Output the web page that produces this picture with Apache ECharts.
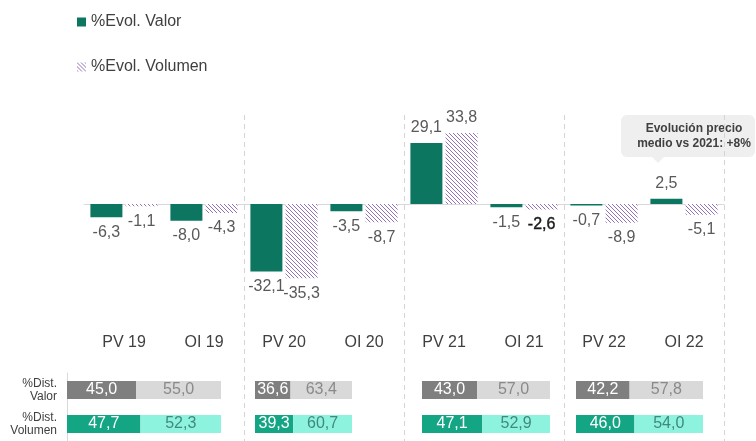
<!DOCTYPE html>
<html>
<head>
<meta charset="utf-8">
<script src="https://cdn.jsdelivr.net/npm/echarts@6/dist/echarts.min.js"></script>
<style>
html,body{margin:0;padding:0;background:#fff;}
#main{width:756px;height:441px;}
</style>
</head>
<body>
<div id="main"></div>
<script>
var categories = ['PV 19', 'OI 19', 'PV 20', 'OI 20', 'PV 21', 'OI 21', 'PV 22', 'OI 22'];
var evolValor = [-6.3, -8.0, -32.1, -3.5, 29.1, -1.5, -0.7, 2.5];
var evolVolumen = [-1.1, -4.3, -35.3, -8.7, 33.8, -2.6, -8.9, -5.1];

var rowLabels = ['%Dist.\nValor', '%Dist.\nVolumen'];
var distValorPV = [45.0, 36.6, 43.0, 42.2];
var distValorOI = [55.0, 63.4, 57.0, 57.8];
var distVolumenPV = [47.7, 39.3, 47.1, 46.0];
var distVolumenOI = [52.3, 60.7, 52.9, 54.0];

var myChart = echarts.init(document.getElementById('main'));

function fmt(v){
    return v.toFixed(1).replace('.', ',');
}

// trama rayada para el volumen
var pc = document.createElement('canvas');
pc.width = 4; pc.height = 4;
var ctx = pc.getContext('2d');
ctx.fillStyle = '#ffffff';
ctx.fillRect(0, 0, 4, 4);
ctx.strokeStyle = '#9472b8';
ctx.lineWidth = 1;
ctx.beginPath();
ctx.moveTo(0, 0); ctx.lineTo(4, 4);
ctx.moveTo(-1, 3); ctx.lineTo(1, 5);
ctx.moveTo(3, -1); ctx.lineTo(5, 1);
ctx.stroke();
var hatch = {image: pc, repeat: 'repeat'};

var valorColor = '#0c7661';
var tableGrids = [
    {left: 67, width: 154},
    {left: 255, width: 97},
    {left: 422, width: 128},
    {left: 576, width: 127}
];

var grids = [
    {left: 84, width: 640, top: 120, height: 168},
    {left: 84, width: 640, top: 115, bottom: 0}
];
var xAxes = [
    {gridIndex: 0, type: 'category', data: categories, position: 'bottom',
        axisLine: {onZero: true, lineStyle: {color: '#d9d9d9'}},
        axisTick: {show: false}, axisLabel: {show: false}},
    {gridIndex: 0, type: 'category', data: categories, position: 'bottom',
        axisLine: {show: false, onZero: false}, axisTick: {show: false},
        axisLabel: {margin: 47, fontSize: 16, color: '#404040'}},
    {gridIndex: 1, type: 'category', data: categories,
        axisLine: {show: false}, axisTick: {show: false}, axisLabel: {show: false},
        splitLine: {show: true, interval: function(i){ return i > 0 && i < categories.length && i % 2 === 0; },
            lineStyle: {color: '#d4d4d4', type: [5, 4], width: 1}}}
];
var yAxes = [
    {gridIndex: 0, type: 'value', min: -40, max: 40, show: false},
    {gridIndex: 1, type: 'value', min: 0, max: 1, show: false}
];
var series = [
    {
        name: '%Evol. Valor', type: 'bar', xAxisIndex: 0, yAxisIndex: 0,
        barWidth: 32, barGap: '10%',
        itemStyle: {color: valorColor},
        label: {show: true, position: 'outside', distance: 7, fontSize: 16, color: '#595959',
            formatter: function(p){ return fmt(p.value); }},
        data: evolValor
    },
    {
        name: '%Evol. Volumen', type: 'bar', xAxisIndex: 0, yAxisIndex: 0,
        barWidth: 32, barGap: '10%',
        itemStyle: {color: hatch},
        label: {show: true, position: 'outside', distance: 7, fontSize: 16, color: '#595959',
            formatter: function(p){ return fmt(p.value); }},
        data: evolVolumen.map(function(v, i){
            if (categories[i] === 'OI 21') {
                return {value: v, label: {color: '#1a1a1a', textBorderColor: '#1a1a1a', textBorderWidth: 0.4}};
            }
            return v;
        })
    }
];

tableGrids.forEach(function(g, k){
    grids.push({left: g.left, width: g.width, top: 373, height: 76});
    xAxes.push({gridIndex: k + 2, type: 'value', min: 0, max: 100, show: false});
    yAxes.push({gridIndex: k + 2, type: 'category', inverse: true, data: rowLabels,
        show: k === 0,
        axisLine: {show: true, lineStyle: {color: '#d9d9d9'}},
        axisTick: {show: false},
        axisLabel: {margin: 10, fontSize: 12, lineHeight: 13, color: '#404040', align: 'right'}});
    series.push({
        name: 'pv' + k, type: 'bar', xAxisIndex: k + 3, yAxisIndex: k + 2, stack: 's' + k,
        barWidth: 18,
        label: {show: true, position: 'inside', fontSize: 16, color: '#ffffff',
            formatter: function(p){ return fmt(p.value); }},
        data: [
            {value: distValorPV[k], itemStyle: {color: '#7f7f7f'}},
            {value: distVolumenPV[k], itemStyle: {color: '#14a585'}}
        ]
    });
    series.push({
        name: 'oi' + k, type: 'bar', xAxisIndex: k + 3, yAxisIndex: k + 2, stack: 's' + k,
        barWidth: 18,
        label: {show: true, position: 'inside', fontSize: 16,
            formatter: function(p){ return fmt(p.value); }},
        data: [
            {value: distValorOI[k], itemStyle: {color: '#d9d9d9'}, label: {color: '#8a8a8a'}},
            {value: distVolumenOI[k], itemStyle: {color: '#8ef3de'}, label: {color: '#3f8a7d'}}
        ]
    });
});

var option = {
    animation: false,
    textStyle: {fontFamily: '"Liberation Sans", Arial, sans-serif'},
    legend: {
        data: ['%Evol. Valor', '%Evol. Volumen'],
        orient: 'vertical', left: 72, top: 9,
        itemWidth: 9, itemHeight: 9, itemGap: 29, icon: 'rect',
        selectedMode: false,
        textStyle: {fontSize: 16, color: '#404040'}
    },
    grid: grids,
    xAxis: xAxes,
    yAxis: yAxes,
    series: series,
    graphic: [
        {
            type: 'group', left: 621, top: 115,
            children: [
                {type: 'rect', shape: {x: 0, y: 0, width: 134, height: 42, r: 6}, style: {fill: '#efefef'}},
                {type: 'polygon', shape: {points: [[30, 41], [44, 41], [37, 48]]}, style: {fill: '#efefef'}},
                {type: 'text', style: {text: 'Evolución precio\nmedio vs 2021: +8%', x: 73, y: 21,
                    align: 'center', verticalAlign: 'middle', lineHeight: 15,
                    font: 'bold 12px "Liberation Sans", Arial, sans-serif', fill: '#404040'}}
            ]
        }
    ]
};
myChart.setOption(option);
</script>
</body>
</html>
